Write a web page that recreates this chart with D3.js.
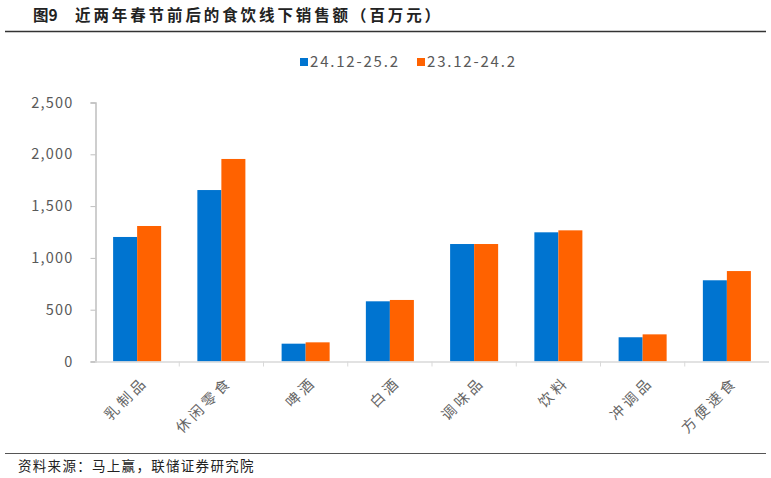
<!DOCTYPE html>
<html><head><meta charset="utf-8">
<script src="https://cdn.jsdelivr.net/npm/d3@7/dist/d3.min.js"></script>
<style>body{margin:0;background:#fff}svg{display:block}text{white-space:pre}</style>
</head><body>
<svg id="c" width="771" height="478"></svg>
<script>
const categories = ["乳制品","休闲零食","啤酒","白酒","调味品","饮料","冲调品","方便速食"];
const seriesNames = ["24.12-25.2","23.12-24.2"];
const series2425 = [1202,1655,172,581,1134,1247,234,784];
const series2324 = [1308,1955,185,594,1134,1266,262,873];
const yTicks = [0,500,1000,1500,2000,2500];
const colors = ["#0074D0","#FF6200"];

const svg = d3.select("#c");
const CJK = "'Noto Sans CJK SC', sans-serif";

// title
const title = svg.append("text").attr("x",33).attr("y",21).attr("font-family",CJK).attr("font-weight","bold")
  .attr("font-size",15.5).attr("fill","#222");
title.append("tspan").text("图9");
title.append("tspan").attr("x",75).attr("letter-spacing",2.9).text("近两年春节前后的食饮线下销售额（百万元）");
svg.append("line").attr("x1",5).attr("x2",766).attr("y1",31.5).attr("y2",31.5).attr("stroke","#333").attr("stroke-width",1.5);

// footer
svg.append("line").attr("x1",5).attr("x2",766).attr("y1",453.5).attr("y2",453.5).attr("stroke","#555").attr("stroke-width",1.2);
svg.append("text").attr("x",18).attr("y",471).attr("font-family",CJK).attr("font-size",13.5)
  .attr("letter-spacing",1.3).attr("fill","#222").text("资料来源：马上赢，联储证券研究院");

const x0 = d3.scaleBand().domain(categories).range([95,769]).paddingInner(0.43).paddingOuter(0.215);
const x1 = d3.scaleBand().domain(seriesNames).range([0,x0.bandwidth()]);
const y = d3.scaleLinear().domain([0,2500]).range([361.5,102.5]);

// y axis
const yAxis = svg.append("g").attr("transform","translate(95.5,0)")
  .call(d3.axisLeft(y).tickValues(yTicks).tickSize(5).tickPadding(17).tickFormat(d3.format(",")));
yAxis.select(".domain").attr("stroke","#bfbfbf").attr("stroke-width",1.5);
yAxis.selectAll(".tick line").attr("stroke","#bfbfbf");
yAxis.selectAll(".tick text").attr("font-family",CJK).attr("font-size",14.5).attr("letter-spacing",1.2).attr("fill","#595959");

// bars
const data = categories.map((c,i)=>({c, vals:[series2425[i],series2324[i]]}));
const g = svg.append("g");
g.selectAll("g").data(data).join("g").attr("transform",d=>`translate(${x0(d.c)},0)`)
  .selectAll("rect").data(d=>d.vals.map((v,j)=>({v,j}))).join("rect")
  .attr("x",d=>x1(seriesNames[d.j])).attr("width",x1.bandwidth())
  .attr("y",d=>y(d.v)).attr("height",d=>y(0)-y(d.v))
  .attr("fill",d=>colors[d.j]);

// x axis
const xs = d3.scaleLinear().domain([0,categories.length]).range([95,769]);
const xg = svg.append("g");
xg.append("line").attr("x1",95).attr("x2",769).attr("y1",y(0)+0.5).attr("y2",y(0)+0.5).attr("stroke","#d9d9d9").attr("stroke-width",1.5);
xg.selectAll("line.t").data(d3.range(1,categories.length)).join("line").attr("class","t")
  .attr("x1",d=>xs(d)).attr("x2",d=>xs(d)).attr("y1",y(0)).attr("y2",y(0)+5).attr("stroke","#d9d9d9");
xg.selectAll("text").data(categories).join("text")
  .attr("transform",d=>`translate(${x0(d)+x0.bandwidth()/2+8},${y(0)+18}) rotate(-45)`)
  .attr("text-anchor","end").attr("dy","0.35em").attr("letter-spacing",3.5)
  .attr("font-family",CJK).attr("font-size",14.5).attr("fill","#666").text(d=>d);

// legend
const lg = svg.append("g").attr("transform","translate(300,62)");
const litems = lg.selectAll("g").data(seriesNames).join("g").attr("transform",(d,i)=>`translate(${i*117},0)`);
litems.append("rect").attr("x",0).attr("y",-4).attr("width",8).attr("height",8).attr("fill",(d,i)=>colors[i]);
litems.append("text").attr("x",10).attr("y",0).attr("dy","0.35em").attr("font-family",CJK)
  .attr("font-size",15).attr("letter-spacing",1.8).attr("fill","#595959").text(d=>d);
</script>
</body></html>
